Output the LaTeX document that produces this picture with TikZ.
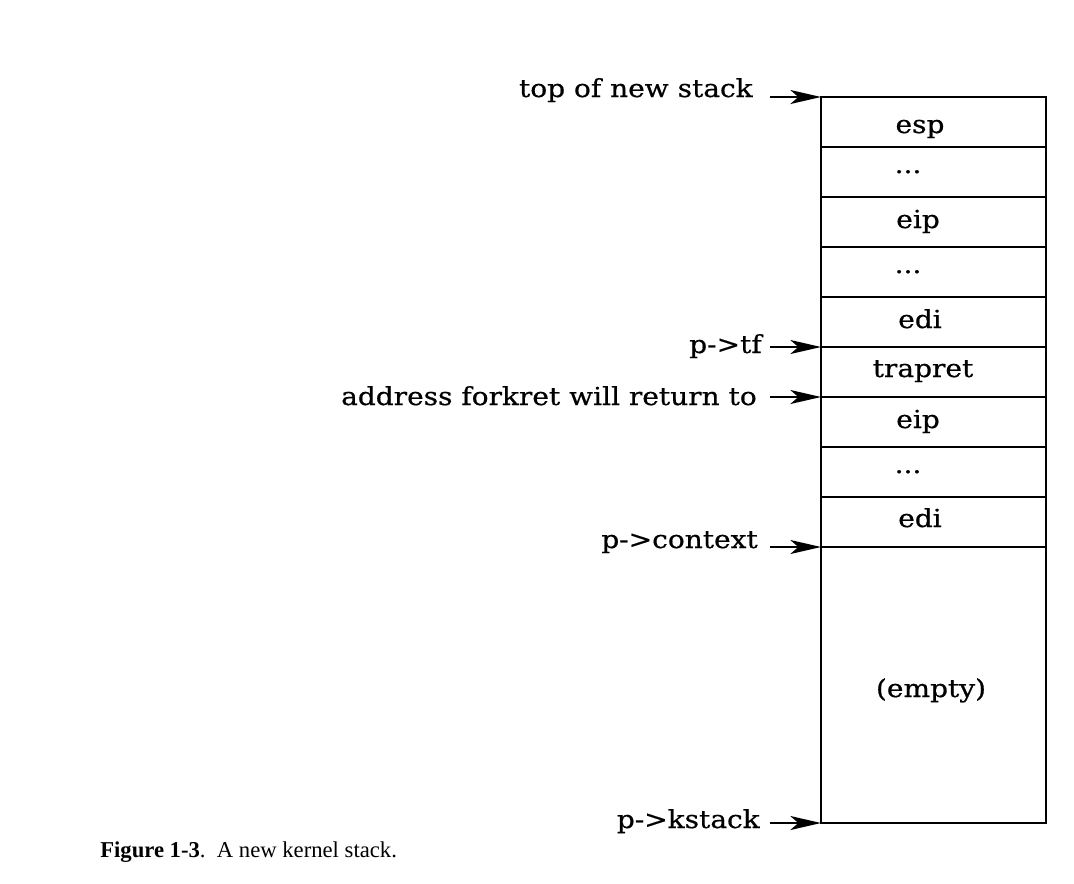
\documentclass[tikz,border=0pt]{standalone}
\usepackage{fontspec}
\setmainfont{Liberation Serif}
\newfontfamily\labfont[FakeStretch=1.13,FakeBold=0.6]{DejaVu Serif}
\usetikzlibrary{arrows.meta}
\tikzset{
  lab/.style={font=\labfont\fontsize{18.6pt}{21pt}\selectfont, inner sep=0pt, anchor=base east},
  cell/.style={font=\labfont\fontsize{18.6pt}{21pt}\selectfont, inner sep=0pt, anchor=base},
  ptr/.style={line width=1.5pt, -{Stealth[length=23pt,width=10.5pt,inset=6pt]}},
  frame/.style={line width=1.4pt},
  sep/.style={line width=1pt},
  captext/.style={font=\fontsize{17pt}{20pt}\selectfont, inner sep=0pt, anchor=base west}
}
\begin{document}
\begin{tikzpicture}[x=0.75pt,y=-0.75pt]
\useasboundingbox (0,0) rectangle (1074,883);
% stack box
\coordinate (tl) at (821,97);
\coordinate (br) at (1046,823);
\foreach \y in {147,197,247,297,347,397,447,497,547}{
  \draw[sep] (821,\y) -- (1046,\y);
}
\draw[frame] (tl) rectangle (br);
% cell contents
\node[cell] (c1) at (920,133) {esp};
\node[cell] (c2) at (908,173) {...};
\node[cell] (c3) at (918,228) {eip};
\node[cell] (c4) at (908,273) {...};
\node[cell] (c5) at (920,328) {edi};
\node[cell] (c6) at (923,377) {trapret};
\node[cell] (c7) at (918,428) {eip};
\node[cell] (c8) at (908,473) {...};
\node[cell] (c9) at (920,527) {edi};
\node[cell] (c10) at (931,697) {(empty)};
% pointer labels
\node[lab] (l1) at (753,97) {top of new stack};
\node[lab] (l2) at (762,353) {p->tf};
\node[lab] (l3) at (757,405) {address forkret will return to};
\node[lab] (l4) at (758,548) {p->context};
\node[lab] (l5) at (760,828) {p->kstack};
% arrow start and end points
\coordinate (s1) at (770,97);   \coordinate (e1) at (821,97);
\coordinate (s2) at (770,347);  \coordinate (e2) at (821,347);
\coordinate (s3) at (770,397);  \coordinate (e3) at (821,397);
\coordinate (s4) at (770,547);  \coordinate (e4) at (821,547);
\coordinate (s5) at (770,823);  \coordinate (e5) at (821,823);
\draw[ptr] (s1) -- (e1);
\draw[ptr] (s2) -- (e2);
\draw[ptr] (s3) -- (e3);
\draw[ptr] (s4) -- (e4);
\draw[ptr] (s5) -- (e5);
% caption
\node[captext] (caption) at (100,857) {\textbf{Figure 1-3}.\ \ A new kernel stack.};
\end{tikzpicture}
\end{document}
